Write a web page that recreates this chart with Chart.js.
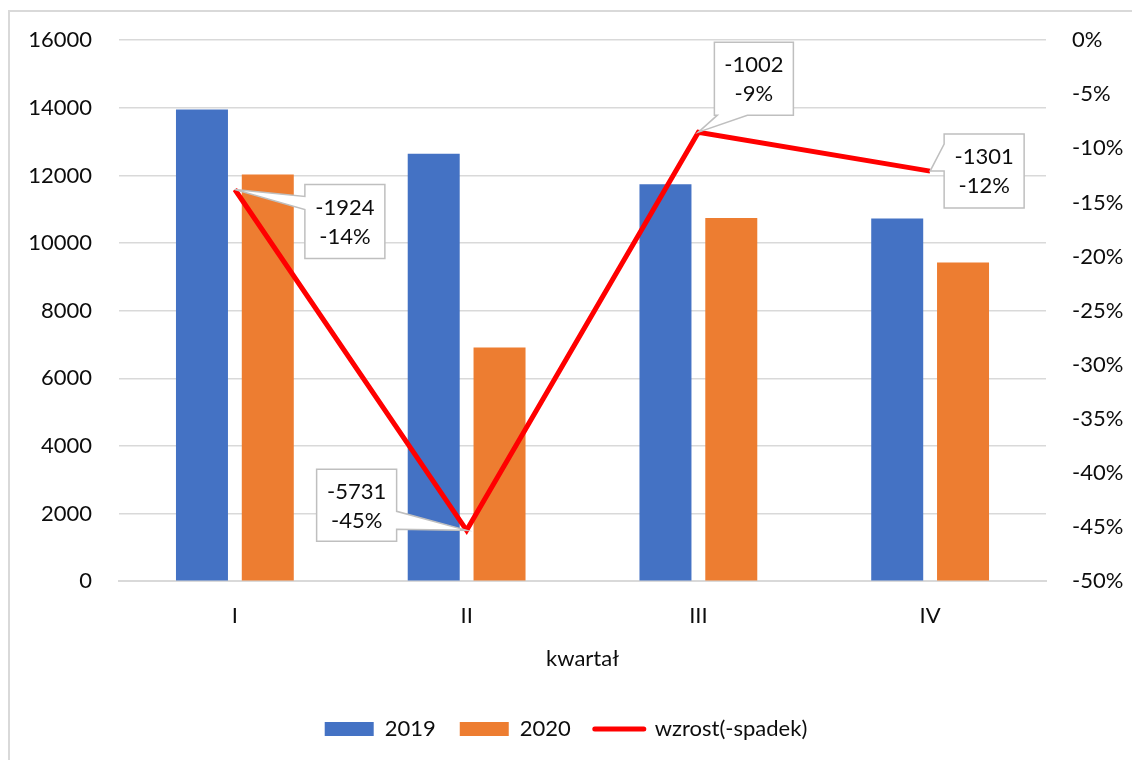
<!DOCTYPE html>
<html>
<head>
<meta charset="utf-8">
<script src="https://cdn.jsdelivr.net/npm/chart.js@4"></script>
<style>
  body { margin: 0; background: #fff; }
  #wrap { position: relative; width: 1132px; height: 760px; }
</style>
</head>
<body>
<div id="wrap"><canvas id="chart" width="1132" height="760"></canvas></div>
<script>
const quarters = ["I", "II", "III", "IV"];
const sales2019 = [13950, 12640, 11740, 10730];
const sales2020 = [12026, 6909, 10738, 9429];
const diffs = [-1924, -5731, -1002, -1301];
const changePct = [-13.8, -45.3, -8.5, -12.1];

// callout box placement relative to each line point
const callouts = [
  { dx: 70, dy: -5, w: 80, h: 74, side: "left", a: 12, b: 25 },
  { dx: -150, dy: -61, w: 80, h: 72, side: "right", a: 42, b: 60 },
  { dx: 16, dy: -90, w: 79, h: 73, side: "bottom", a: 3, b: 33 },
  { dx: 14, dy: -37, w: 80, h: 74, side: "left", a: 10, b: 37 }
];

const FONT = "Lato, 'Open Sans', sans-serif";
const FS = 22;
const TXT = "#0d0d0d";

const calloutPlugin = {
  id: "callouts",
  afterDatasetsDraw(chart) {
    const ctx = chart.ctx;
    const meta = chart.getDatasetMeta(2);
    meta.data.forEach((pt, i) => {
      const c = callouts[i];
      const px = pt.x, py = pt.y;
      const L = px + c.dx, T = py + c.dy, R = L + c.w, B = T + c.h;
      ctx.save();
      ctx.beginPath();
      ctx.moveTo(L, T);
      if (c.side === "top") { ctx.lineTo(L + c.a, T); ctx.lineTo(px, py); ctx.lineTo(L + c.b, T); }
      ctx.lineTo(R, T);
      if (c.side === "right") { ctx.lineTo(R, T + c.a); ctx.lineTo(px, py); ctx.lineTo(R, T + c.b); }
      ctx.lineTo(R, B);
      if (c.side === "bottom") { ctx.lineTo(L + c.b, B); ctx.lineTo(px, py); ctx.lineTo(L + c.a, B); }
      ctx.lineTo(L, B);
      if (c.side === "left") { ctx.lineTo(L, T + c.b); ctx.lineTo(px, py); ctx.lineTo(L, T + c.a); }
      ctx.closePath();
      ctx.fillStyle = "#fff";
      ctx.fill();
      ctx.strokeStyle = "#bfbfbf";
      ctx.lineWidth = 1.5;
      ctx.stroke();
      ctx.fillStyle = TXT;
      ctx.font = FS + "px " + FONT;
      ctx.textAlign = "center";
      ctx.textBaseline = "middle";
      ctx.fillText(String(diffs[i]), (L + R) / 2, T + 23);
      ctx.fillText(changePct[i].toFixed(0) + "%", (L + R) / 2, T + 52);
      ctx.restore();
    });
  }
};

const framePlugin = {
  id: "frame",
  beforeDraw(chart) {
    const ctx = chart.ctx;
    ctx.save();
    ctx.strokeStyle = "#d9d9d9";
    ctx.lineWidth = 2;
    ctx.beginPath();
    ctx.moveTo(9, 770);
    ctx.lineTo(9, 11);
    ctx.lineTo(1140, 11);
    ctx.stroke();
    ctx.restore();
  }
};

new Chart(document.getElementById("chart"), {
  data: {
    labels: quarters,
    datasets: [
      {
        type: "bar",
        label: "2019",
        data: sales2019,
        backgroundColor: "#4472C4",
        yAxisID: "y",
        order: 2
      },
      {
        type: "bar",
        label: "2020",
        data: sales2020,
        backgroundColor: "#ED7D31",
        yAxisID: "y",
        order: 2
      },
      {
        type: "line",
        label: "wzrost(-spadek)",
        data: changePct,
        borderColor: "#FF0000",
        backgroundColor: "#FF0000",
        borderWidth: 5,
        pointRadius: 0,
        tension: 0,
        yAxisID: "y1",
        order: 1
      }
    ]
  },
  options: {
    responsive: false,
    animation: false,
    layout: { padding: { top: 34, bottom: 10, left: 0, right: 0 } },
    datasets: {
      bar: { categoryPercentage: 0.568, barPercentage: 0.79 }
    },
    plugins: {
      tooltip: { enabled: false },
      legend: {
        position: "bottom",
        labels: {
          color: TXT,
          font: { family: FONT, size: FS },
          usePointStyle: true,
          pointStyleWidth: 49,
          boxHeight: 14,
          padding: 24,
          generateLabels(chart) {
            return chart.data.datasets.map((ds, i) => ({
              text: ds.label,
              fillStyle: ds.backgroundColor,
              strokeStyle: ds.type === "line" ? ds.borderColor : ds.backgroundColor,
              lineWidth: ds.type === "line" ? 5 : 0,
              lineCap: "round",
              pointStyle: ds.type === "line" ? "line" : "rect",
              fontColor: TXT,
              hidden: false,
              datasetIndex: i
            }));
          }
        }
      }
    },
    scales: {
      x: {
        grid: { display: false },
        border: { display: true, color: "#d9d9d9", width: 2 },
        ticks: { color: TXT, font: { family: FONT, size: FS }, padding: 14 },
        title: {
          display: true,
          text: "kwartał",
          color: TXT,
          font: { family: FONT, size: FS },
          padding: { top: 2, bottom: 22 }
        }
      },
      y: {
        position: "left",
        min: 0,
        max: 16000,
        grid: { color: "#d9d9d9", lineWidth: 1.5, drawTicks: false },
        border: { display: false },
        ticks: {
          stepSize: 2000,
          padding: 27,
          color: TXT,
          font: { family: FONT, size: FS },
          callback: (v) => String(v)
        },
        afterFit(scale) { scale.width = 119; }
      },
      y1: {
        position: "right",
        min: -50,
        max: 0,
        grid: { display: false, drawTicks: false },
        border: { display: false },
        ticks: {
          stepSize: 5,
          padding: 26,
          color: TXT,
          font: { family: FONT, size: FS },
          callback: (v) => v + "%"
        },
        afterFit(scale) { scale.width = 86; }
      }
    }
  },
  plugins: [framePlugin, calloutPlugin]
});
</script>
</body>
</html>
